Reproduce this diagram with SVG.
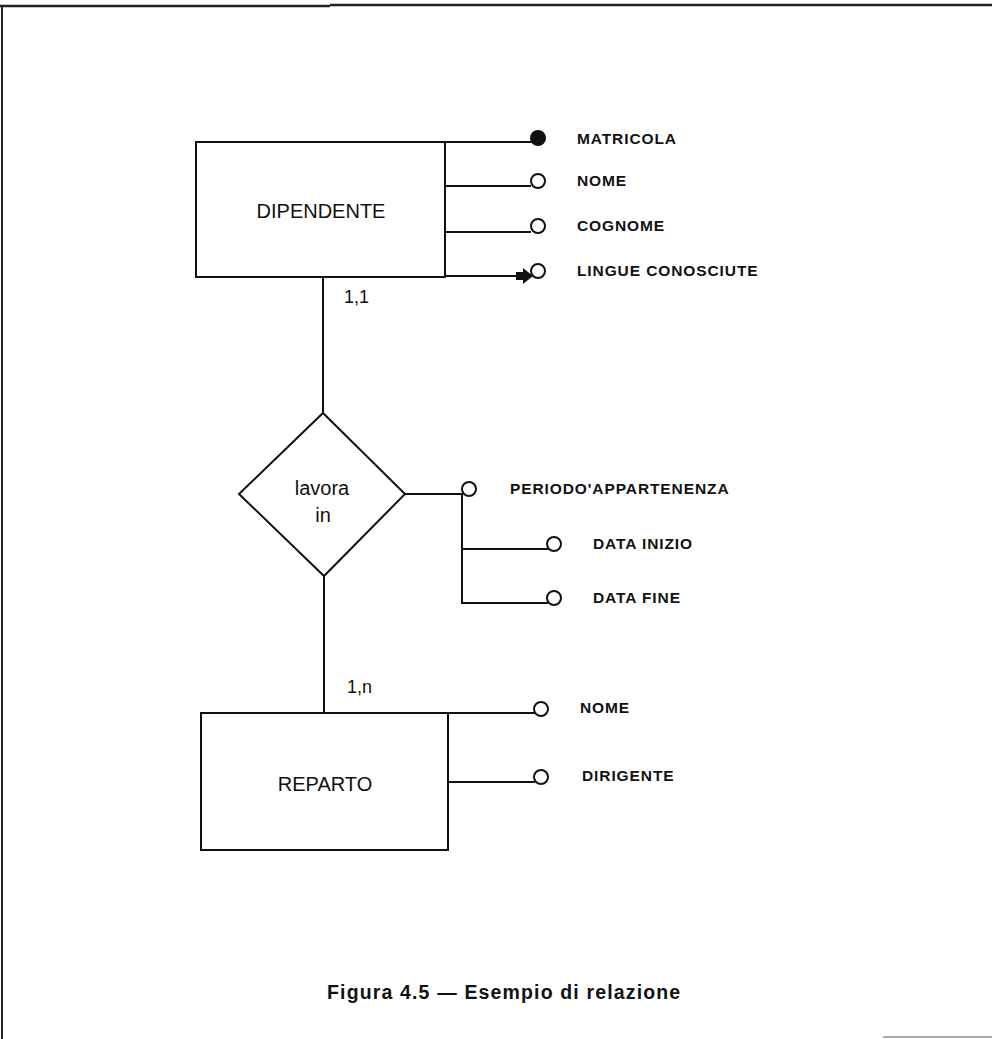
<svg xmlns="http://www.w3.org/2000/svg" width="992" height="1039" viewBox="0 0 992 1039">
<style>
.ln{stroke:#111;stroke-width:2;fill:none}
.ent{stroke:#111;stroke-width:2;fill:#fff}
.att{stroke:#111;stroke-width:2;fill:#fff}
.key{stroke:#111;stroke-width:2;fill:#111}
.lbl{font-family:"Liberation Sans",Arial,sans-serif;font-size:15.5px;font-weight:bold;letter-spacing:0.9px;fill:#111}
.name{font-family:"Liberation Sans",Arial,sans-serif;font-size:20px;fill:#111;text-anchor:middle}
.card{font-family:"Liberation Sans",Arial,sans-serif;font-size:18px;fill:#111}
.cap{font-family:"Liberation Sans",Arial,sans-serif;font-size:19.5px;font-weight:bold;letter-spacing:1.15px;fill:#111}
</style>
<defs>
<marker id="arr" markerWidth="18" markerHeight="16" refX="15" refY="8" orient="auto" markerUnits="userSpaceOnUse">
<path d="M0,4 L7,4 L7,0 L17,8 L7,16 L7,12 L0,12 Z" fill="#111"/>
</marker>
</defs>
<rect width="992" height="1039" fill="#fff"/>
<g id="frame">
<path d="M0,6 H330 M330,5 H992" stroke="#222" stroke-width="2.5" fill="none"/>
<path d="M2,6 V1039" stroke="#222" stroke-width="2" fill="none"/>
<path d="M883,1037 H992" stroke="#aaa" stroke-width="2" fill="none"/>
</g>
<g id="connectors">
<path class="ln" d="M323,277 V413"/>
<path class="ln" d="M324,576 V713"/>
<path class="ln" d="M445,142 H532"/>
<path class="ln" d="M445,186 H531"/>
<path class="ln" d="M445,232 H531"/>
<path class="ln" d="M445,276 H531" marker-end="url(#arr)"/>
<path class="ln" d="M405,494 H463"/>
<path class="ln" d="M462,494 V603 H548"/>
<path class="ln" d="M462,549 H548"/>
<path class="ln" d="M448,713 H535"/>
<path class="ln" d="M448,782 H535"/>
</g>
<g id="DIPENDENTE">
<rect class="ent" x="196" y="142" width="249" height="135"/>
<text class="name" x="321" y="218">DIPENDENTE</text>
</g>
<g id="lavora_in">
<path class="ent" d="M323,413 L405,494 L324,576 L239,494 Z"/>
<text class="name" x="322" y="495">lavora</text>
<text class="name" x="323" y="522">in</text>
</g>
<g id="REPARTO">
<rect class="ent" x="201" y="713" width="247" height="137"/>
<text class="name" x="325" y="791">REPARTO</text>
</g>
<g id="attr_matricola">
<circle class="key" cx="538" cy="138" r="7"/>
<text class="lbl" x="577" y="144">MATRICOLA</text>
</g>
<g id="attr_nome">
<circle class="att" cx="538" cy="181" r="7"/>
<text class="lbl" x="577" y="186">NOME</text>
</g>
<g id="attr_cognome">
<circle class="att" cx="538" cy="226" r="7"/>
<text class="lbl" x="577" y="231">COGNOME</text>
</g>
<g id="attr_lingue">
<circle class="att" cx="538" cy="271" r="7"/>
<text class="lbl" x="577" y="276">LINGUE CONOSCIUTE</text>
</g>
<g id="attr_periodo">
<circle class="att" cx="469" cy="489" r="7"/>
<text class="lbl" x="510" y="494">PERIODO'APPARTENENZA</text>
</g>
<g id="attr_data_inizio">
<circle class="att" cx="554" cy="544" r="7"/>
<text class="lbl" x="593" y="549">DATA INIZIO</text>
</g>
<g id="attr_data_fine">
<circle class="att" cx="554" cy="598" r="7"/>
<text class="lbl" x="593" y="603">DATA FINE</text>
</g>
<g id="attr_rep_nome">
<circle class="att" cx="541" cy="709" r="7"/>
<text class="lbl" x="580" y="713">NOME</text>
</g>
<g id="attr_dirigente">
<circle class="att" cx="541" cy="777" r="7"/>
<text class="lbl" x="582" y="781">DIRIGENTE</text>
</g>
<text class="card" x="344" y="303">1,1</text>
<text class="card" x="347" y="693">1,n</text>
<text class="cap" x="327" y="999">Figura 4.5 — Esempio di relazione</text>
</svg>
